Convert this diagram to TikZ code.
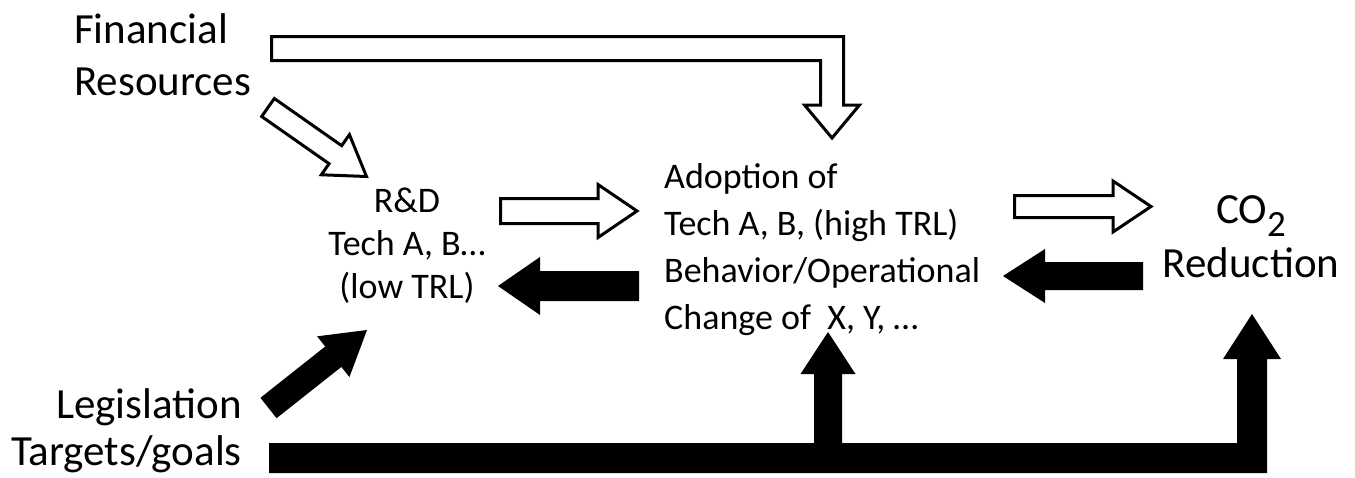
\documentclass[tikz,border=0pt]{standalone}
\usepackage{fontspec}
\setmainfont{Carlito}
\usetikzlibrary{calc}

\tikzset{
  bigtext/.style={inner sep=0pt, font=\fontsize{43}{52}\selectfont},
  smalltext/.style={inner sep=0pt, font=\fontsize{36}{47}\selectfont},
  hollowarrow/.style={draw=black, fill=white, line width=3pt, line join=miter},
  solidarrow/.style={fill=black, draw=none},
}

% Straight block arrow: #1 style, #2 tail, #3 tip,
% #4 shaft half-width, #5 head half-width, #6 head length
\newcommand{\blockarrow}[6]{%
  \coordinate (baneck) at ($(#3)!#6!(#2)$);
  \path[#1] ($(#2)!#4!90:(#3)$) -- ($(baneck)!#4!-90:(#2)$)
    -- ($(baneck)!#5!-90:(#2)$) -- (#3) -- ($(baneck)!#5!90:(#2)$)
    -- ($(baneck)!#4!90:(#2)$) -- ($(#2)!#4!-90:(#3)$) -- cycle;}

\begin{document}
\begin{tikzpicture}[x=1pt,y=-1pt]
\useasboundingbox (0,0) rectangle (1355,477);

% ---- text blocks ----
\node[bigtext, anchor=base west] (fin1) at (74,43) {Financial};
\node[bigtext, anchor=base west] (fin2) at (74,95) {Resources};

\node[bigtext, anchor=base east] (leg1) at (242,418) {Legislation};
\node[bigtext, anchor=base east] (leg2) at (242,465) {Targets/goals};

\node[smalltext, anchor=base] (rd1) at (407,212) {R\&D};
\node[smalltext, anchor=base] (rd2) at (407,255) {Tech A, B…};
\node[smalltext, anchor=base] (rd3) at (407,298) {(low TRL)};

\node[smalltext, anchor=base west] (ad1) at (664,188) {Adoption of};
\node[smalltext, anchor=base west] (ad2) at (664,235) {Tech A, B, (high TRL)};
\node[smalltext, anchor=base west] (ad3) at (664,282) {Behavior/Operational};
\node[smalltext, anchor=base west] (ad4) at (664,329) {Change of\ \ X, Y, …};

\node[bigtext, anchor=base] (co1) at (1251,223)
  {CO{\fontsize{37}{37}\selectfont\raisebox{-13pt}{2}}};
\node[bigtext, anchor=base] (co2) at (1251,277) {Reduction};

% ---- arrow end points ----
\coordinate (finDiagTail) at (268,107.5);
\coordinate (rdTop)       at (366.5,176.5);
\coordinate (rdOutTail)   at (500.5,211);
\coordinate (adInTip)     at (637,211);
\coordinate (adOutTail)   at (1014.5,206.5);
\coordinate (coInTip)     at (1151,206.5);
\coordinate (coBackTail)  at (1143,276);
\coordinate (adBackTip)   at (1003,276);
\coordinate (adBackTail)  at (639,286);
\coordinate (rdBackTip)   at (498,286);
\coordinate (legTail)     at (268.5,408);
\coordinate (rdBottom)    at (367,330);
\coordinate (finTail)     at (271.5,48.5);
\coordinate (adTop)       at (832,138);
\coordinate (tgTail)      at (269,458);
\coordinate (adBottom)    at (828,332);
\coordinate (coBottom)    at (1252,314);

% ---- straight arrows ----
\blockarrow{hollowarrow}{finDiagTail}{rdTop}{11pt}{24.5pt}{38pt}
\blockarrow{hollowarrow}{rdOutTail}{adInTip}{12.5pt}{26.5pt}{39pt}
\blockarrow{hollowarrow}{adOutTail}{coInTip}{11pt}{25.5pt}{38pt}
\blockarrow{solidarrow}{coBackTail}{adBackTip}{14pt}{27pt}{42pt}
\blockarrow{solidarrow}{adBackTail}{rdBackTip}{15pt}{29pt}{42pt}
\blockarrow{solidarrow}{legTail}{rdBottom}{13pt}{26pt}{43pt}

% ---- bent arrow from the funding line down to adoption ----
\path[hollowarrow]
  ($(finTail)+(0,-12)$) -- ($(adTop |- finTail)+(11.5,-12)$)
  -- ($(adTop)+(11.5,-33)$) -- ($(adTop)+(27.5,-33)$) -- (adTop)
  -- ($(adTop)+(-27.5,-33)$) -- ($(adTop)+(-11.5,-33)$)
  -- ($(adTop |- finTail)+(-11.5,12)$) -- ($(finTail)+(0,12)$) -- cycle;

% ---- bent arrow from targets to adoption and CO2 reduction ----
\path[solidarrow]
  ($(tgTail)+(0,-15)$) -- ($(adBottom |- tgTail)+(-14,-15)$)
  -- ($(adBottom)+(-14,42)$) -- ($(adBottom)+(-27.5,42)$) -- (adBottom)
  -- ($(adBottom)+(27.5,42)$) -- ($(adBottom)+(14,42)$)
  -- ($(adBottom |- tgTail)+(14,-15)$) -- ($(coBottom |- tgTail)+(-15,-15)$)
  -- ($(coBottom)+(-15,45)$) -- ($(coBottom)+(-29,45)$) -- (coBottom)
  -- ($(coBottom)+(29,45)$) -- ($(coBottom)+(15,45)$)
  -- ($(coBottom |- tgTail)+(15,15)$) -- ($(tgTail)+(0,15)$) -- cycle;
\end{tikzpicture}
\end{document}
